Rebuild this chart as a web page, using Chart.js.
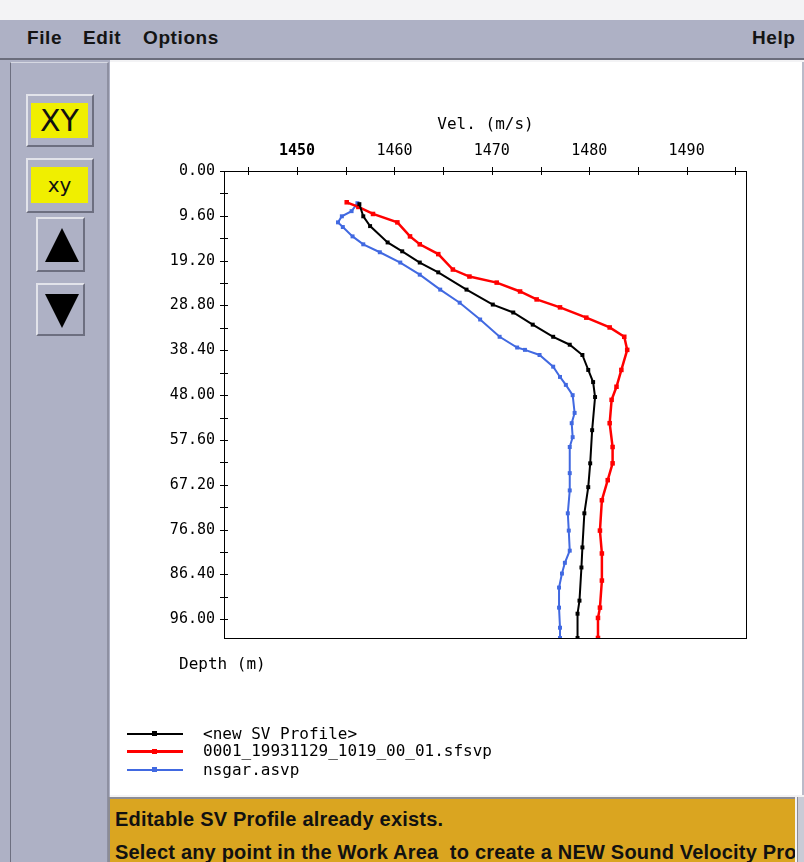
<!DOCTYPE html>
<html lang="en">
<head>
<meta charset="UTF-8">
<title>SV Profile Editor</title>
<script src="https://cdn.jsdelivr.net/npm/chart.js"></script>
<style>
  body { margin:0; width:804px; height:862px; position:relative; overflow:hidden; background:#f3f3f5; font-family:"Liberation Sans", Arial, sans-serif; }
  .menubar { position:absolute; left:0; top:20px; width:804px; height:38px; background:#aeb1c5; border-bottom:2px solid #6b6d7c; }
  .menubar span { position:absolute; top:7px; font-weight:bold; font-size:19px; color:#141414; letter-spacing:0.6px; }
  .leftbg { position:absolute; left:0; top:60px; width:110px; height:802px; background:#aeb1c5; }
  .sidepanel { position:absolute; left:10px; top:62px; width:96px; height:800px; border-left:1px solid #6d6f80; border-right:2px solid #8e90a2; border-top:1px solid #d6d8e2; }
  .btn { position:absolute; background:#aeb1c5; border:2px solid; border-color:#e2e3ea #6d6f80 #6d6f80 #e2e3ea; box-sizing:border-box; }
  .btn .face { position:absolute; background:#f0ef00; color:#111; text-align:center; font-family:"DejaVu Sans", sans-serif; }
  .tri-up { position:absolute; left:7px; top:9px; width:0; height:0; border-left:17px solid transparent; border-right:17px solid transparent; border-bottom:34px solid #000; }
  .tri-dn { position:absolute; left:7px; top:9px; width:0; height:0; border-left:17px solid transparent; border-right:17px solid transparent; border-top:34px solid #000; }
  .work { position:absolute; left:110px; top:62px; width:692px; height:733px; background:#fff; border-right:2px solid #b9bbc9; }
  #chart { position:absolute; left:110px; top:62px; }
  .mono { position:absolute; font-family:"DejaVu Sans Mono", monospace; font-size:16px; color:#000; white-space:nowrap; }
  .legend-row { position:absolute; left:127px; height:16px; }
  .legend-row .ln { position:absolute; left:0; top:7px; width:56px; }
  .legend-row .mk { position:absolute; left:25px; width:5px; height:5px; }
  .legend-row .tx { position:absolute; left:76px; top:-2px; font-family:"DejaVu Sans Mono", monospace; font-size:16px; white-space:nowrap; }
  .msg { position:absolute; left:108px; top:797px; width:687px; height:65px; background:#daa520; border-top:2px solid #8c8c94; border-left:2px solid #8c8c94; box-sizing:border-box; overflow:hidden; }
  .msg div { position:absolute; left:5px; font-weight:bold; font-size:20px; color:#111; white-space:nowrap; letter-spacing:0.2px; }
  .scroll { position:absolute; left:797px; top:797px; width:7px; height:65px; background:#c9cbd6; border-left:1px solid #8c8c94; }
</style>
</head>
<body>
<div class="menubar">
  <span style="left:27px">File</span>
  <span style="left:83px">Edit</span>
  <span style="left:143px">Options</span>
  <span style="left:752px">Help</span>
</div>
<div class="leftbg"></div>
<div class="sidepanel"></div>
<div class="btn" style="left:26px;top:94px;width:68px;height:53px">
  <div class="face" style="left:3px;top:7px;width:57px;height:35px;font-size:30px;line-height:35px">XY</div>
</div>
<div class="btn" style="left:26px;top:158px;width:68px;height:55px">
  <div class="face" style="left:3px;top:7px;width:57px;height:36px;font-size:20px;line-height:36px">xy</div>
</div>
<div class="btn" style="left:36px;top:217px;width:49px;height:55px"><div class="tri-up"></div></div>
<div class="btn" style="left:36px;top:283px;width:49px;height:53px"><div class="tri-dn"></div></div>

<div class="work"></div>
<canvas id="chart" width="692" height="733"></canvas>

<div class="mono" style="left:179px;top:654px">Depth (m)</div>

<div class="legend-row" style="top:726px">
  <div class="ln" style="height:2px;background:#000"></div><div class="mk" style="top:5px;background:#000"></div>
  <div class="tx">&lt;new SV Profile&gt;</div>
</div>
<div class="legend-row" style="top:743px">
  <div class="ln" style="height:3px;background:#ff0000"></div><div class="mk" style="top:6px;background:#ff0000"></div>
  <div class="tx">0001_19931129_1019_00_01.sfsvp</div>
</div>
<div class="legend-row" style="top:762px">
  <div class="ln" style="height:2px;background:#4169e1"></div><div class="mk" style="top:5px;background:#4169e1"></div>
  <div class="tx">nsgar.asvp</div>
</div>

<div class="msg">
  <div style="top:9px">Editable SV Profile already exists.</div>
  <div style="top:42px">Select any point in the Work Area&nbsp; to create a NEW Sound Velocity Profile</div>
</div>
<div class="scroll"></div>

<script>
// axis ticks
const velTicks = [1445, 1450, 1455, 1460, 1465, 1470, 1475, 1480, 1485, 1490, 1495];
const depthTicks = [0, 4.8, 9.6, 14.4, 19.2, 24, 28.8, 33.6, 38.4, 43.2, 48, 52.8, 57.6,
                    62.4, 67.2, 72, 76.8, 81.6, 86.4, 91.2, 96];

// <new SV Profile>
const newDepth = [7.1, 9.7, 11.8, 15.3, 17.2, 19.6, 21.7, 25.4, 28.6, 30.3, 32.9, 35.5, 37.2,
                  39.4, 42.6, 45.2, 48.4, 55.5, 62.6, 67.7, 73.3, 80.6, 84.9, 92.0, 94.8, 100.0];
const newVel = [1456.4, 1456.8, 1457.5, 1459.3, 1460.8, 1462.6, 1464.5, 1467.4, 1470.1, 1472.2, 1474.2, 1476.3, 1478.0,
                1479.3, 1479.9, 1480.4, 1480.6, 1480.3, 1480.1, 1479.9, 1479.5, 1479.3, 1479.2, 1479.0, 1478.8, 1478.8];

// 0001_19931129_1019_00_01.sfsvp
const sfDepth = [6.7, 7.7, 9.2, 11.0, 14.0, 15.7, 17.8, 21.1, 22.6, 23.9, 25.8, 27.5, 29.2, 31.4, 33.5, 35.5,
                 38.3, 42.6, 46.2, 49.0, 54.0, 59.1, 62.6, 66.2, 70.5, 77.0, 81.9, 87.7, 93.5, 95.7, 100.0];
const sfVel = [1455.1, 1456.3, 1457.8, 1460.3, 1461.6, 1462.6, 1464.5, 1466.0, 1467.7, 1470.5, 1472.9, 1474.6, 1477.0, 1479.7, 1482.1, 1483.6,
               1483.9, 1483.3, 1482.8, 1482.3, 1482.1, 1482.4, 1482.4, 1481.9, 1481.3, 1481.1, 1481.3, 1481.3, 1481.1, 1480.9, 1480.9];

// nsgar.asvp
const nsDepth = [6.9, 8.6, 9.7, 11.0, 12.0, 14.0, 15.7, 17.4, 19.6, 22.2, 25.4, 28.2, 31.8, 35.5, 37.8, 38.3, 39.4, 41.9,
                 44.1, 45.8, 48.0, 51.8, 54.0, 57.0, 59.1, 64.7, 68.4, 73.3, 77.0, 81.3, 83.9, 86.2, 89.2, 93.5, 97.8, 100.0];
const nsVel = [1456.2, 1455.6, 1454.6, 1454.2, 1454.7, 1455.7, 1456.8, 1458.5, 1460.6, 1462.6, 1464.7, 1466.7, 1468.8, 1470.8, 1472.6, 1473.4, 1474.9, 1476.3,
               1477.0, 1477.6, 1478.3, 1478.5, 1478.2, 1478.3, 1478.0, 1478.0, 1478.0, 1477.8, 1477.9, 1478.0, 1477.5, 1477.2, 1476.9, 1476.9, 1477.0, 1477.0];

function pts(vel, depth) {
    return vel.map((v, i) => ({ x: v, y: depth[i] }));
}

function profile(label, vel, depth, color, width, radius) {
    return {
        label: label,
        data: pts(vel, depth),
        showLine: true,
        borderColor: color,
        backgroundColor: color,
        pointBackgroundColor: color,
        borderWidth: width,
        pointStyle: 'rect',
        pointRadius: radius,
        pointBorderWidth: 0,
        pointHoverRadius: radius
    };
}

// box around the plot + ticks that cross the axis lines
const axisFrame = {
    id: 'axisFrame',
    afterDatasetsDraw(chart) {
        const { ctx, chartArea: a, scales: { x, y } } = chart;
        ctx.save();
        ctx.strokeStyle = '#000';
        ctx.lineWidth = 1;
        ctx.strokeRect(a.left + 0.5, a.top + 0.5, a.right - a.left - 1, a.bottom - a.top);
        ctx.beginPath();
        x.ticks.forEach(t => {
            const px = Math.round(x.getPixelForValue(t.value)) + 0.5;
            ctx.moveTo(px, a.top - 4);
            ctx.lineTo(px, a.top + 4);
        });
        y.ticks.forEach(t => {
            const py = Math.round(y.getPixelForValue(t.value)) + 0.5;
            ctx.moveTo(a.left - 4, py);
            ctx.lineTo(a.left + 4, py);
        });
        ctx.stroke();
        ctx.restore();
    }
};

const isMajorDepth = v => Math.abs(v / 9.6 - Math.round(v / 9.6)) < 1e-6;

new Chart(document.getElementById('chart'), {
    type: 'scatter',
    data: {
        datasets: [
            profile('<new SV Profile>', newVel, newDepth, '#000000', 2, 2.8),
            profile('0001_19931129_1019_00_01.sfsvp', sfVel, sfDepth, '#ff0000', 2.5, 3.2),
            profile('nsgar.asvp', nsVel, nsDepth, '#4169e1', 2, 2.8)
        ]
    },
    options: {
        responsive: false,
        animation: false,
        layout: { padding: { left: 44, top: 40, right: 55, bottom: 157 } },
        plugins: {
            legend: { display: false },
            tooltip: { enabled: false }
        },
        scales: {
            x: {
                type: 'linear',
                position: 'top',
                min: 1442.5,
                max: 1496.2,
                afterBuildTicks: s => { s.ticks = velTicks.map(v => ({ value: v })); },
                afterFit: s => { s.height = 69; },
                grid: { display: false, drawTicks: false },
                border: { display: false },
                ticks: {
                    autoSkip: false,
                    maxRotation: 0,
                    padding: 11,
                    color: '#000',
                    font: c => ({
                        family: 'DejaVu Sans Mono',
                        size: 15,
                        weight: c.tick && c.tick.value === 1450 ? 'bold' : 'normal'
                    }),
                    callback: v => (v % 10 === 0 ? String(v) : '')
                },
                title: {
                    display: true,
                    text: 'Vel. (m/s)',
                    color: '#000',
                    font: { family: 'DejaVu Sans Mono', size: 16 },
                    padding: { top: 13, bottom: 0 }
                }
            },
            y: {
                type: 'linear',
                position: 'left',
                reverse: true,
                min: 0,
                max: 100,
                afterBuildTicks: s => { s.ticks = depthTicks.map(v => ({ value: v })); },
                afterFit: s => { s.width = 70; },
                grid: { display: false, drawTicks: false },
                border: { display: false },
                ticks: {
                    autoSkip: false,
                    padding: 9,
                    color: '#000',
                    font: { family: 'DejaVu Sans Mono', size: 15 },
                    callback: v => (isMajorDepth(v) ? v.toFixed(2) : '')
                }
            }
        }
    },
    plugins: [axisFrame]
});
</script>
</body>
</html>
